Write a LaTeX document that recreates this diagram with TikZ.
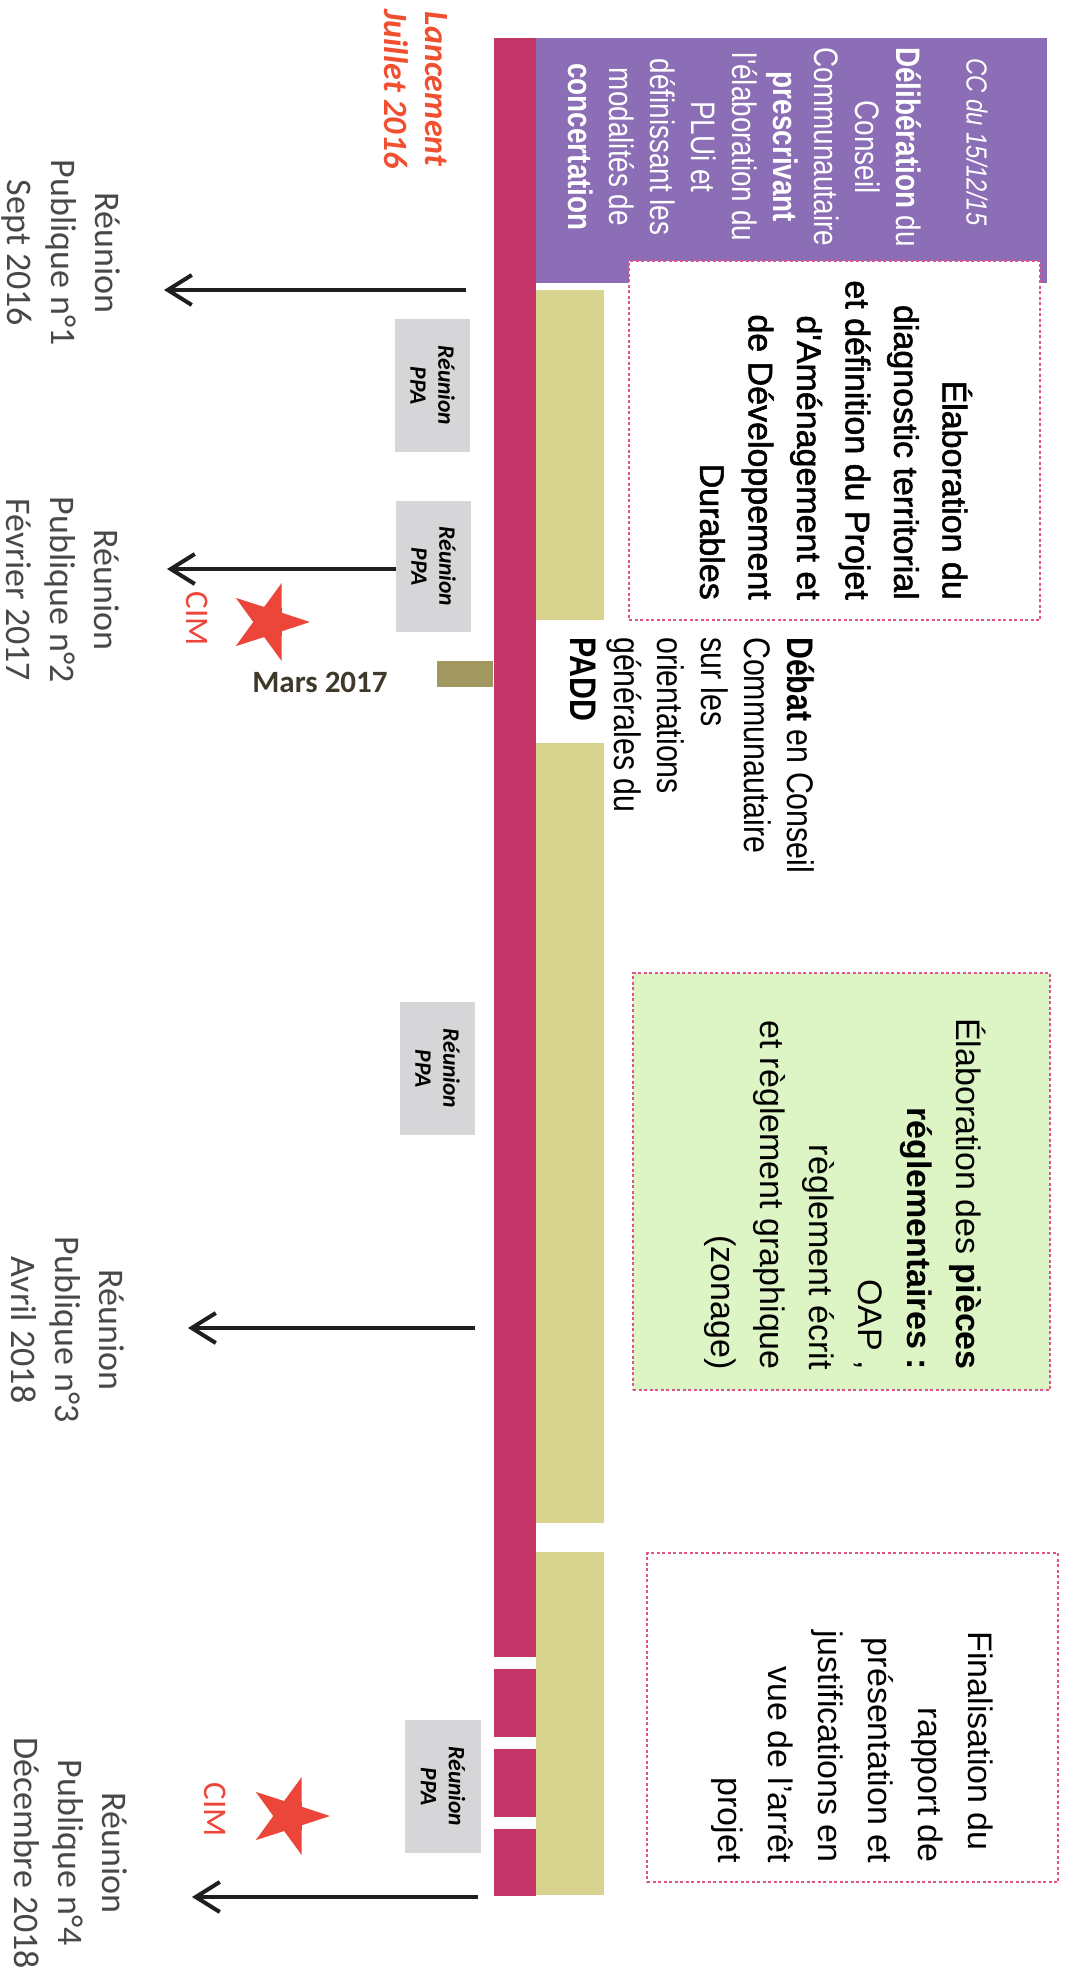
\documentclass[tikz,border=0pt]{standalone}
\usepackage{fontspec}
\setmainfont{Liberation Sans}
\newfontfamily\narrowfont[FakeStretch=0.82]{Liberation Sans}
\newfontfamily\heavyfont[FakeBold=1.6]{Liberation Sans}
\newfontfamily\calfont{Carlito}
\usetikzlibrary{arrows.meta,shapes.geometric}
\definecolor{magbar}{RGB}{196,54,104}
\definecolor{purp}{RGB}{140,110,182}
\definecolor{khaki}{RGB}{216,211,142}
\definecolor{olivebar}{RGB}{160,152,94}
\definecolor{ppagray}{RGB}{214,214,217}
\definecolor{greenbox}{RGB}{221,245,196}
\definecolor{dashpink}{RGB}{222,84,140}
\definecolor{cimred}{RGB}{236,70,58}
\definecolor{lancred}{RGB}{240,80,48}
\definecolor{reutext}{RGB}{72,72,72}
\definecolor{marstext}{RGB}{62,57,40}
\begin{document}
\begin{tikzpicture}[x=1pt,y=-1pt,
  dashbox/.style={draw=dashpink,line width=1.5pt,dash pattern=on 3pt off 2.5pt,inner sep=0pt},
  ppabox/.style={fill=ppagray,rotate=-90,inner sep=0pt,align=center,
     font=\calfont\bfseries\itshape\fontsize{23.5}{28}\selectfont},
  boxtext/.style={rotate=-90,inner sep=0pt,text=black,font=\fontsize{34}{49}\selectfont},
  reutxt/.style={rotate=-90,inner sep=0pt,align=center,text=reutext,
     font=\calfont\fontsize{36}{44}\selectfont},
  cimtxt/.style={rotate=-90,inner sep=0pt,text=cimred,font=\calfont\fontsize{33}{40}\selectfont},
  starmark/.style={star,star points=5,star point ratio=2.6,fill=cimred,inner sep=0pt,
     minimum size=82pt,shape border rotate=-90},
  pubarrow/.style={line width=4pt,draw=black!88,
     -{Straight Barb[length=24pt,width=30pt,line width=4pt]}}
]
\useasboundingbox (0,0) rectangle (1066,1972);
\fill[white] (0,0) rectangle (1066,1972);

% timeline bars
\fill[magbar] (494,38) rectangle (536,1657);
\fill[magbar] (494,1669) rectangle (536,1737);
\fill[magbar] (494,1749) rectangle (536,1817);
\fill[magbar] (494,1829) rectangle (536,1896);
\fill[purp] (536,38) rectangle (1047,283);
\fill[khaki] (536,290) rectangle (604,620);
\fill[khaki] (536,743) rectangle (604,1523);
\fill[khaki] (536,1552) rectangle (604,1895);
\fill[olivebar] (437,661) rectangle (493,687);

% Lancement
\node[rotate=-90,inner sep=0pt,align=center,text=lancred,
  font=\calfont\bfseries\itshape\fontsize{34}{41}\selectfont] (lanc) at (416,89)
  {Lancement\\Juillet 2016};

% purple box text
\node[rotate=-90,inner sep=0pt,text=white,
  font=\narrowfont\itshape\fontsize{29}{36}\selectfont] (cc) at (977,142) {CC du 15/12/15};
\node[rotate=-90,inner sep=0pt,align=center,text=white,
  font=\narrowfont\fontsize{34}{41}\selectfont] (delib) at (745,147)
  {\textbf{Délibération} du\\Conseil\\Communautaire\\\textbf{prescrivant}\\l'élaboration du\\PLUi et\\définissant les\\modalités de\\\textbf{concertation}};

% dashed boxes
\node[dashbox,fill=white,minimum width=411pt,minimum height=359pt] (b1) at (834.5,440.5) {};
\node[boxtext,anchor=east,align=right,font=\heavyfont\fontsize{34}{48.5}\selectfont] (t1) at (836,600)
  {Élaboration du\\diagnostic territorial\\et définition du Projet\\d'Aménagement et\\de Développement\\Durables};

\node[dashbox,fill=greenbox,minimum width=417pt,minimum height=417pt] (b2) at (841.5,1181.5) {};
\node[boxtext,anchor=east,align=right] (t2) at (845,1370)
  {Élaboration des \textbf{pièces}\\\textbf{réglementaires :}\\OAP ,\\règlement écrit\\et règlement graphique\\(zonage)};

\node[dashbox,fill=white,minimum width=411pt,minimum height=329pt] (b3) at (852.5,1717.5) {};
\node[boxtext,anchor=east,align=right,font=\fontsize{34}{50}\selectfont] (t3) at (852,1863)
  {Finalisation du\hspace*{12pt}\\rapport de\\présentation et\\justifications en\\vue de l'arrêt\\projet};

% Débat text
\node[rotate=-90,inner sep=0pt,anchor=west,align=left,text=black,
  font=\narrowfont\fontsize{37}{43.4}\selectfont] (debat) at (693,637)
  {\textbf{Débat} en Conseil\\Communautaire\\sur les\\orientations\\générales du\\\textbf{PADD}};

% PPA boxes
\node[ppabox,minimum width=133pt,minimum height=75pt] (g1) at (432.5,385.5) {Réunion\\PPA};
\node[ppabox,minimum width=131pt,minimum height=75pt] (g2) at (433.5,566.5) {Réunion\\PPA};
\node[ppabox,minimum width=133pt,minimum height=75pt] (g3) at (437.5,1068.5) {Réunion\\PPA};
\node[ppabox,minimum width=133pt,minimum height=76pt] (g4) at (443,1786.5) {Réunion\\PPA};

% Mars 2017
\node[inner sep=0pt,text=marstext,
  font=\calfont\bfseries\fontsize{31}{36}\selectfont] (mars) at (320,682) {Mars 2017};

% CIM and stars
\node[starmark] (s1) at (269,622) {};
\node[cimtxt] (cim1) at (197,619) {CIM};
\node[starmark] (s2) at (289,1816) {};
\node[cimtxt] (cim2) at (215,1810) {CIM};

% public meetings
\node[reutxt] (r1) at (61,253) {Réunion\\Publique n°1\\Sept 2016};
\node[reutxt] (r2) at (63,590) {Réunion\\Publique n°2\\Février 2017};
\node[reutxt] (r3) at (68,1330) {Réunion\\Publique n°3\\Avril 2018};
\node[reutxt] (r4) at (71,1853) {Réunion\\Publique n°4\\Décembre 2018};

% arrows
\coordinate (a1s) at (466,290); \coordinate (a1e) at (164,290);
\coordinate (a2s) at (396,569); \coordinate (a2e) at (167,569);
\coordinate (a3s) at (475,1328); \coordinate (a3e) at (188,1328);
\coordinate (a4s) at (478,1897); \coordinate (a4e) at (192,1897);
\draw[pubarrow] (a1s) -- (a1e);
\draw[pubarrow] (a2s) -- (a2e);
\draw[pubarrow] (a3s) -- (a3e);
\draw[pubarrow] (a4s) -- (a4e);
\end{tikzpicture}
\end{document}
